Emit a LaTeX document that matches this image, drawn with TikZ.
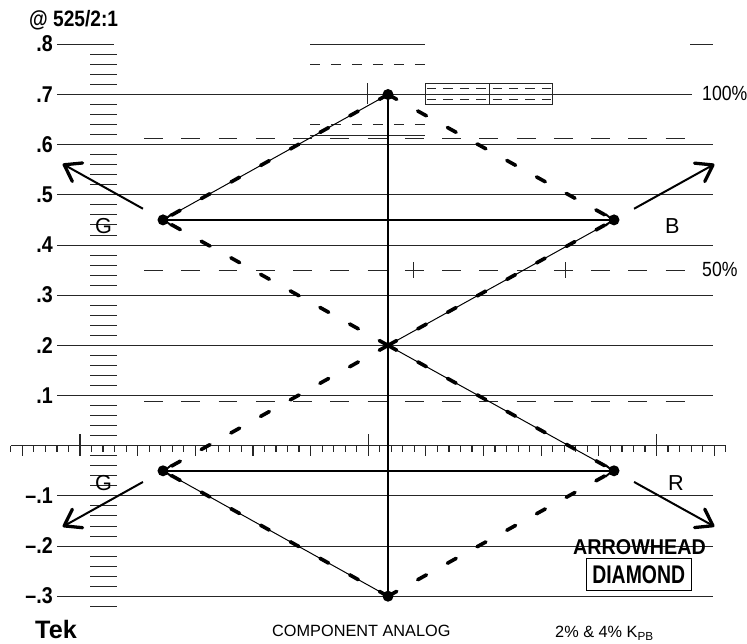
\documentclass[tikz,border=0pt]{standalone}
\usepackage{fontspec}
\setmainfont{Liberation Sans}
\newfontfamily\condf[FakeStretch=0.86]{Liberation Sans}
\newfontfamily\condah[FakeStretch=0.92]{Liberation Sans}
\newfontfamily\conddm[FakeStretch=0.76]{Liberation Sans}
\usetikzlibrary{arrows.meta,calc}
\tikzset{
  gridl/.style={line width=0.8pt, black!85},
  longdash/.style={line width=0.8pt, black!85, dash pattern=on 16.2pt off 15.6pt},
  shortdash/.style={line width=0.8pt, black!85, dash pattern=on 8.5pt off 9.4pt},
  boxdash/.style={line width=0.8pt, black!85, dash pattern=on 8pt off 6pt},
  thinl/.style={line width=0.85pt},
  tdash/.style={line width=3.1pt, line cap=round, dash pattern=on 8.5pt off 20.5pt},
  vaxis/.style={line width=1.7pt},
  harrow/.style={line width=1.7pt, -{Straight Barb[length=6pt,width=10pt,line width=1.6pt]}},
  outarrow/.style={line width=1.7pt, -{Straight Barb[length=13pt,width=18pt,line width=2.8pt,round]}},
  vdot/.style={fill=black},
  axl/.style={font=\condf\bfseries\fontsize{19.5pt}{20pt}\selectfont, anchor=base east, inner sep=0pt},
  pctl/.style={font=\condf\fontsize{17.5pt}{18pt}\selectfont, anchor=base west, inner sep=0pt},
  letl/.style={font=\fontsize{18.5pt}{19pt}\selectfont, anchor=base west, inner sep=0pt},
}
\begin{document}
\begin{tikzpicture}[x=0.03cm,y=-0.03cm]
\useasboundingbox (0,0) rectangle (747,644);

% horizontal graticule lines
\draw[gridl] (57,44.3) -- (114,44.3);
\draw[gridl] (57,94.5) -- (692,94.5);
\foreach \v in {0.6,0.5,0.4,0.3,0.2,0.1,-0.1,-0.2,-0.3}{
  \draw[gridl] (57,{445.7-501.7*\v}) -- (713,{445.7-501.7*\v});
}
% top-right short line and top-centre marks
\draw[gridl] (690,44.3) -- (713,44.3);
\draw[gridl] (310,44.3) -- (425,44.3);
\draw[shortdash] (310,64.3) -- (425,64.3);
\draw[shortdash] (310,124.3) -- (425,124.3);
\draw[gridl] (310,135) -- (425,135);
\draw[gridl] (367.7,83) -- (367.7,104);
% box with dashes
\draw[gridl] (425,83.3) rectangle (552.3,104.3);
\draw[gridl] (489.3,83.3) -- (489.3,104.3);
\draw[boxdash] (427,88.3) -- (551,88.3);
\draw[boxdash] (427,99.3) -- (551,99.3);

% long dashed lines
\draw[longdash] (144,138.5) -- (686,138.5);
\draw[longdash] (144,270.2) -- (686,270.2);
\draw[longdash] (144,401) -- (686,401);
% crosses on 50% line
\draw[gridl] (405.5,270.2) -- (420.5,270.2) (413,262.2) -- (413,278.2);
\draw[gridl] (557.5,270.2) -- (572.5,270.2) (565,262.2) -- (565,278.2);

% left scale ticks
\foreach \k in {-16,...,39}{
  \pgfmathtruncatemacro\m{mod(\k+50,5)}
  \ifnum\m=0\relax\else
    \draw[gridl] (90,{445.7-10.034*\k}) -- (117,{445.7-10.034*\k});
  \fi
}

% horizontal axis with ticks
\draw[line width=1.1pt, black!85] (10.8,445.7) -- (725.7,445.7);
\foreach \i in {-6,...,56}{
  \pgfmathtruncatemacro\ma{mod(\i+50,25)}
  \pgfmathtruncatemacro\mb{mod(\i+50,5)}
  \pgfmathsetmacro\xx{80+11.53*\i}
  \ifnum\ma=0\relax
    \draw[line width=1pt, black!85] (\xx,434) -- (\xx,456);
  \else\ifnum\mb=0\relax
    \draw[line width=1pt, black!85] (\xx,445.7) -- (\xx,456);
  \else
    \draw[line width=1pt, black!85] (\xx,445.7) -- (\xx,451.5);
  \fi\fi
}

% scale labels
\node[axl] (l8) at (53,51.9) {.8};
\node[axl] (l7) at (53,102.1) {.7};
\node[axl] (l6) at (53,152.3) {.6};
\node[axl] (l5) at (53,202.5) {.5};
\node[axl] (l4) at (53,252.6) {.4};
\node[axl] (l3) at (53,302.8) {.3};
\node[axl] (l2) at (53,353.0) {.2};
\node[axl] (l1) at (53,403.1) {.1};
\node[axl] (lm1) at (53,503.5) {–.1};
\node[axl] (lm2) at (53,553.6) {–.2};
\node[axl] (lm3) at (53,603.2) {–.3};

% vertices
\coordinate (T) at (388,94.5);
\coordinate (C) at (388,345.4);
\coordinate (Bt) at (388,596.2);
\coordinate (GU) at (163,219.9);
\coordinate (BU) at (614,219.9);
\coordinate (GL) at (163,470.8);
\coordinate (RL) at (614,470.8);
\coordinate (CU) at (388,219.9);
\coordinate (CL) at (388,470.8);

% vertical axis
\draw[vaxis] (T) -- (Bt);

% thin diamond edges
\draw[thinl] (T) -- (GU);
\draw[thinl] (C) -- (BU);
\draw[thinl] (Bt) -- (GL);
\draw[thinl] (C) -- (RL);
% thick dashed diamond edges
\draw[tdash] (T) -- (GU);
\draw[tdash] (T) -- (BU);
\draw[tdash] (C) -- (GU);
\draw[tdash] (C) -- (BU);
\draw[tdash] (C) -- (GL);
\draw[tdash] (C) -- (RL);
\draw[tdash] (Bt) -- (GL);
\draw[tdash] (Bt) -- (RL);

% horizontal vectors
\draw[harrow] (CU) -- (GU);
\draw[harrow] (CU) -- (BU);
\draw[harrow] (CL) -- (GL);
\draw[harrow] (CL) -- (RL);

% outer arrows
\draw[outarrow] ($(GU)!-19.6pt!(C)$) -- ($(GU)!-98pt!(C)$);
\draw[outarrow] ($(BU)!-19.6pt!(C)$) -- ($(BU)!-98pt!(C)$);
\draw[outarrow] ($(GL)!-19.6pt!(C)$) -- ($(GL)!-98pt!(C)$);
\draw[outarrow] ($(RL)!-19.6pt!(C)$) -- ($(RL)!-98pt!(C)$);

% dots
\foreach \p in {T,Bt,GU,BU,GL,RL}{ \fill[vdot] (\p) circle (4.7pt); }

% letters
\node[letl] (gu) at (95,233.5) {G};
\node[letl] (bu) at (665,233.5) {B};
\node[letl] (gl) at (95,490) {G};
\node[letl] (rl) at (668,490) {R};

% percent labels
\node[pctl] (p100) at (702,100.9) {100\%};
\node[pctl] (p50) at (702,276.7) {50\%};

% header / footer
\node[font=\condf\bfseries\fontsize{19pt}{19pt}\selectfont, anchor=base west, inner sep=0pt] (hdr) at (29,26.7) {@ 525/2:1};
\node[font=\bfseries\fontsize{21.5pt}{22pt}\selectfont, anchor=base west, inner sep=0pt] (tek) at (35,638.3) {Tek};
\node[font=\fontsize{13.9pt}{14pt}\selectfont, anchor=base west, inner sep=0pt] (comp) at (272,636.7) {COMPONENT ANALOG};
\node[font=\fontsize{13.9pt}{14pt}\selectfont, anchor=base west, inner sep=0pt] (kpb) at (555,637) {2\% \& 4\% K\raisebox{-0.35ex}{\fontsize{10pt}{10pt}\selectfont PB}};

% arrowhead diamond label
\node[font=\condah\bfseries\fontsize{18.3pt}{18pt}\selectfont, inner sep=0pt, anchor=base west] (ah) at (573,554.3) {ARROWHEAD};
\node[draw, line width=0.8pt, minimum width=89.6pt, minimum height=27pt, inner sep=0pt] (dm) at (638.5,574.2) {};
\node[font=\conddm\bfseries\fontsize{21.8pt}{22pt}\selectfont, inner sep=0pt, anchor=base] (dmt) at (638.7,583.3) {DIAMOND};
\end{tikzpicture}
\end{document}
